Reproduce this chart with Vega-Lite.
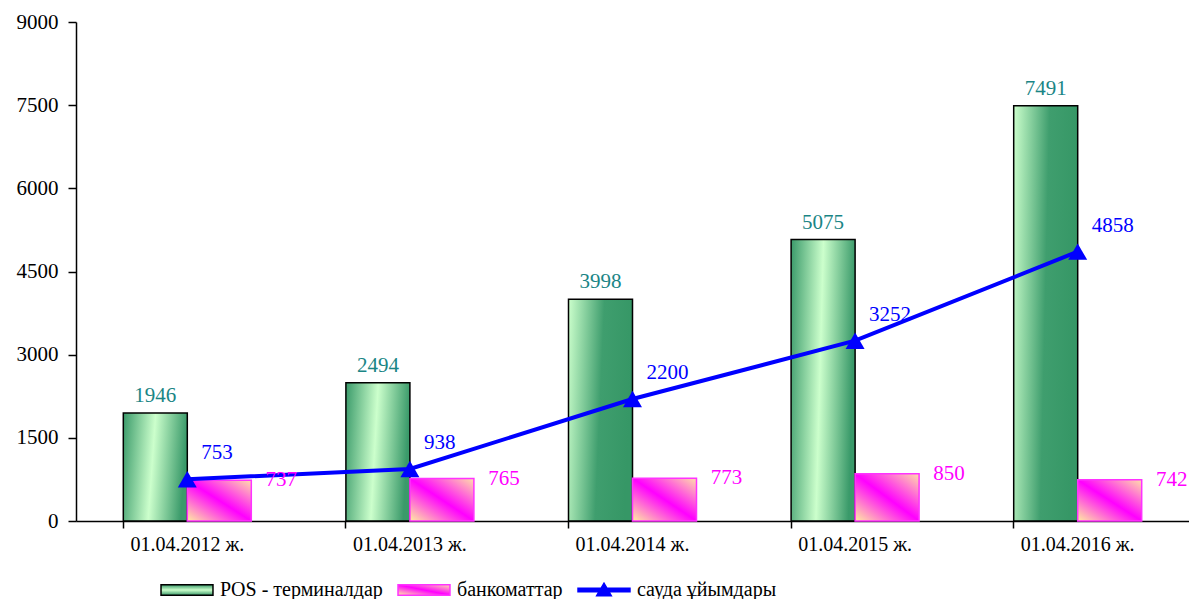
{
  "$schema": "https://vega.github.io/schema/vega-lite/v6.json",
  "width": 1113,
  "height": 499,
  "autosize": "none",
  "padding": {"left": 76, "top": 22, "right": 0, "bottom": 78},
  "background": "white",
  "config": {
    "view": {"stroke": null},
    "font": "Liberation Serif",
    "axis": {"labelFont": "Liberation Serif", "labelColor": "#000000", "domainColor": "#000000", "tickColor": "#000000", "grid": false, "title": null},
    "legend": {"labelFont": "Liberation Serif"}
  },
  "data": {
    "values": [
      {"date": "01.04.2012 ж.", "series": "POS - терминалдар", "value": 1946},
      {"date": "01.04.2013 ж.", "series": "POS - терминалдар", "value": 2494},
      {"date": "01.04.2014 ж.", "series": "POS - терминалдар", "value": 3998},
      {"date": "01.04.2015 ж.", "series": "POS - терминалдар", "value": 5075},
      {"date": "01.04.2016 ж.", "series": "POS - терминалдар", "value": 7491},
      {"date": "01.04.2012 ж.", "series": "банкоматтар", "value": 737},
      {"date": "01.04.2013 ж.", "series": "банкоматтар", "value": 765},
      {"date": "01.04.2014 ж.", "series": "банкоматтар", "value": 773},
      {"date": "01.04.2015 ж.", "series": "банкоматтар", "value": 850},
      {"date": "01.04.2016 ж.", "series": "банкоматтар", "value": 742},
      {"date": "01.04.2012 ж.", "series": "сауда ұйымдары", "value": 753},
      {"date": "01.04.2013 ж.", "series": "сауда ұйымдары", "value": 938},
      {"date": "01.04.2014 ж.", "series": "сауда ұйымдары", "value": 2200},
      {"date": "01.04.2015 ж.", "series": "сауда ұйымдары", "value": 3252},
      {"date": "01.04.2016 ж.", "series": "сауда ұйымдары", "value": 4858}
    ]
  },
  "encoding": {
    "x": {
      "field": "date", "type": "nominal",
      "sort": ["01.04.2012 ж.", "01.04.2013 ж.", "01.04.2014 ж.", "01.04.2015 ж.", "01.04.2016 ж."],
      "scale": {"domain": ["01.04.2012 ж.", "01.04.2013 ж.", "01.04.2014 ж.", "01.04.2015 ж.", "01.04.2016 ж."], "paddingInner": 0.425, "paddingOuter": 0.2125},
      "axis": {"labelAngle": 0, "labelFontSize": 20, "labelPadding": 6, "tickSize": 7, "bandPosition": 0, "domainWidth": 1.5, "tickWidth": 1.5}
    },
    "y": {
      "field": "value", "type": "quantitative",
      "scale": {"domain": [0, 9000], "nice": false},
      "axis": {"values": [0, 1500, 3000, 4500, 6000, 7500, 9000], "format": "d", "labelFontSize": 21, "labelPadding": 10, "tickSize": 8, "domainWidth": 1.5, "tickWidth": 1.5}
    }
  },
  "layer": [
    {
      "transform": [{"filter": "datum.series === 'POS - терминалдар' && (datum.date === '01.04.2012 ж.' || datum.date === '01.04.2013 ж.' || datum.date === '01.04.2015 ж.')"}],
      "mark": {
        "type": "bar", "strokeWidth": 1.5,
        "fill": {"gradient": "linear", "x1": 0, "y1": 0, "x2": 1, "y2": 0.12, "stops": [{"offset": 0, "color": "#3a9a6a"}, {"offset": 0.5, "color": "#ccffcc"}, {"offset": 1, "color": "#3a9a6a"}]}
      },
      "encoding": {
        "xOffset": {"field": "series", "scale": {"domain": ["POS - терминалдар", "банкоматтар"], "paddingInner": 0, "paddingOuter": 0}},
        "stroke": {
          "field": "series", "type": "nominal",
          "scale": {"domain": ["POS - терминалдар", "банкоматтар", "сауда ұйымдары"], "range": ["#000000", "#ff33ff", "#0000ff"]},
          "legend": {
            "title": null, "orient": "none", "legendX": 84, "legendY": 541, "direction": "horizontal",
            "labelFont": "Liberation Serif", "labelFontSize": 20, "labelColor": "#000000", "labelLimit": 0, "labelOffset": 6, "columnPadding": 12,
            "symbolSize": 2700, "symbolType": "M-1,-0.2H1V0.2H-1Z", "symbolStrokeWidth": 1.5,
            "encode": {"symbols": {"update": {
              "shape": {"signal": "datum.value === 'сауда ұйымдары' ? 'M-1,-0.07H1V0.07H-1Z M-0.28,0.22L0,-0.26L0.28,0.22Z' : 'M-1,-0.2H1V0.2H-1Z'"},
              "fill": {"signal": "datum.value === 'сауда ұйымдары' ? '#0000ff' : datum.value === 'банкоматтар' ? {gradient: 'linear', x1: 0, y1: 1, x2: 1, y2: 0, stops: [{offset: 0, color: '#ffeea0'}, {offset: 0.5, color: '#ff00ff'}, {offset: 1, color: '#ffe0a8'}]} : {gradient: 'linear', x1: 0, y1: 0, x2: 0, y2: 1, stops: [{offset: 0, color: '#3a9a6a'}, {offset: 0.5, color: '#ccffcc'}, {offset: 1, color: '#3a9a6a'}]}"},
              "opacity": {"value": 1}
            }}}
          }
        }
      }
    },
    {
      "transform": [{"filter": "datum.series === 'POS - терминалдар' && (datum.date === '01.04.2014 ж.' || datum.date === '01.04.2016 ж.')"}],
      "mark": {
        "type": "bar", "strokeWidth": 1.5,
        "fill": {"gradient": "linear", "x1": 0, "y1": 0, "x2": 1, "y2": 0.15, "stops": [{"offset": 0, "color": "#ccffcc"}, {"offset": 0.55, "color": "#3f9e6e"}, {"offset": 1, "color": "#369766"}]}
      },
      "encoding": {
        "xOffset": {"field": "series", "scale": {"domain": ["POS - терминалдар", "банкоматтар"], "paddingInner": 0, "paddingOuter": 0}},
        "stroke": {
          "field": "series", "type": "nominal",
          "legend": {
            "title": null, "orient": "none", "legendX": 84, "legendY": 541, "direction": "horizontal",
            "labelFont": "Liberation Serif", "labelFontSize": 20, "labelColor": "#000000", "labelLimit": 0, "labelOffset": 6, "columnPadding": 12,
            "symbolSize": 2700, "symbolType": "M-1,-0.2H1V0.2H-1Z", "symbolStrokeWidth": 1.5,
            "encode": {"symbols": {"update": {
              "shape": {"signal": "datum.value === 'сауда ұйымдары' ? 'M-1,-0.07H1V0.07H-1Z M-0.28,0.22L0,-0.26L0.28,0.22Z' : 'M-1,-0.2H1V0.2H-1Z'"},
              "fill": {"signal": "datum.value === 'сауда ұйымдары' ? '#0000ff' : datum.value === 'банкоматтар' ? {gradient: 'linear', x1: 0, y1: 1, x2: 1, y2: 0, stops: [{offset: 0, color: '#ffeea0'}, {offset: 0.5, color: '#ff00ff'}, {offset: 1, color: '#ffe0a8'}]} : {gradient: 'linear', x1: 0, y1: 0, x2: 0, y2: 1, stops: [{offset: 0, color: '#3a9a6a'}, {offset: 0.5, color: '#ccffcc'}, {offset: 1, color: '#3a9a6a'}]}"},
              "opacity": {"value": 1}
            }}}
          }
        }
      }
    },
    {
      "transform": [{"filter": "datum.series === 'банкоматтар'"}],
      "mark": {
        "type": "bar", "strokeWidth": 1.5,
        "fill": {"gradient": "linear", "x1": 0, "y1": 1, "x2": 1, "y2": 0, "stops": [{"offset": 0, "color": "#ffeea0"}, {"offset": 0.5, "color": "#ff00ff"}, {"offset": 1, "color": "#ffe0a8"}]}
      },
      "encoding": {
        "xOffset": {"field": "series", "scale": {"domain": ["POS - терминалдар", "банкоматтар"], "paddingInner": 0, "paddingOuter": 0}},
        "stroke": {
          "field": "series", "type": "nominal",
          "legend": {
            "title": null, "orient": "none", "legendX": 84, "legendY": 541, "direction": "horizontal",
            "labelFont": "Liberation Serif", "labelFontSize": 20, "labelColor": "#000000", "labelLimit": 0, "labelOffset": 6, "columnPadding": 12,
            "symbolSize": 2700, "symbolType": "M-1,-0.2H1V0.2H-1Z", "symbolStrokeWidth": 1.5,
            "encode": {"symbols": {"update": {
              "shape": {"signal": "datum.value === 'сауда ұйымдары' ? 'M-1,-0.07H1V0.07H-1Z M-0.28,0.22L0,-0.26L0.28,0.22Z' : 'M-1,-0.2H1V0.2H-1Z'"},
              "fill": {"signal": "datum.value === 'сауда ұйымдары' ? '#0000ff' : datum.value === 'банкоматтар' ? {gradient: 'linear', x1: 0, y1: 1, x2: 1, y2: 0, stops: [{offset: 0, color: '#ffeea0'}, {offset: 0.5, color: '#ff00ff'}, {offset: 1, color: '#ffe0a8'}]} : {gradient: 'linear', x1: 0, y1: 0, x2: 0, y2: 1, stops: [{offset: 0, color: '#3a9a6a'}, {offset: 0.5, color: '#ccffcc'}, {offset: 1, color: '#3a9a6a'}]}"},
              "opacity": {"value": 1}
            }}}
          }
        }
      }
    },
    {
      "transform": [{"filter": "datum.series === 'сауда ұйымдары'"}],
      "mark": {"type": "line", "strokeWidth": 4},
      "encoding": {
        "stroke": {
          "field": "series", "type": "nominal",
          "legend": {
            "title": null, "orient": "none", "legendX": 84, "legendY": 541, "direction": "horizontal",
            "labelFont": "Liberation Serif", "labelFontSize": 20, "labelColor": "#000000", "labelLimit": 0, "labelOffset": 6, "columnPadding": 12,
            "symbolSize": 2700, "symbolType": "M-1,-0.2H1V0.2H-1Z", "symbolStrokeWidth": 1.5,
            "encode": {"symbols": {"update": {
              "shape": {"signal": "datum.value === 'сауда ұйымдары' ? 'M-1,-0.07H1V0.07H-1Z M-0.28,0.22L0,-0.26L0.28,0.22Z' : 'M-1,-0.2H1V0.2H-1Z'"},
              "fill": {"signal": "datum.value === 'сауда ұйымдары' ? '#0000ff' : datum.value === 'банкоматтар' ? {gradient: 'linear', x1: 0, y1: 1, x2: 1, y2: 0, stops: [{offset: 0, color: '#ffeea0'}, {offset: 0.5, color: '#ff00ff'}, {offset: 1, color: '#ffe0a8'}]} : {gradient: 'linear', x1: 0, y1: 0, x2: 0, y2: 1, stops: [{offset: 0, color: '#3a9a6a'}, {offset: 0.5, color: '#ccffcc'}, {offset: 1, color: '#3a9a6a'}]}"},
              "opacity": {"value": 1}
            }}}
          }
        }
      }
    },
    {
      "transform": [{"filter": "datum.series === 'сауда ұйымдары'"}],
      "mark": {"type": "point", "shape": "triangle-up", "filled": true, "color": "#0000ff", "size": 360, "opacity": 1}
    },
    {
      "transform": [{"filter": "datum.series === 'POS - терминалдар'"}],
      "mark": {"type": "text", "font": "Liberation Serif", "fontSize": 21, "color": "#1a8585", "baseline": "alphabetic", "dy": -11},
      "encoding": {
        "xOffset": {"field": "series", "scale": {"domain": ["POS - терминалдар", "банкоматтар"], "paddingInner": 0, "paddingOuter": 0}},
        "text": {"field": "value", "type": "quantitative", "format": "d"}
      }
    },
    {
      "transform": [{"filter": "datum.series === 'банкоматтар'"}],
      "mark": {"type": "text", "font": "Liberation Serif", "fontSize": 21, "color": "#ff00ff", "baseline": "middle", "align": "center", "dx": 62, "dy": 0},
      "encoding": {
        "xOffset": {"field": "series", "scale": {"domain": ["POS - терминалдар", "банкоматтар"], "paddingInner": 0, "paddingOuter": 0}},
        "text": {"field": "value", "type": "quantitative", "format": "d"}
      }
    },
    {
      "transform": [{"filter": "datum.series === 'сауда ұйымдары'"}],
      "mark": {"type": "text", "font": "Liberation Serif", "fontSize": 21, "color": "#0000ff", "baseline": "middle", "align": "left", "dx": 14, "dy": -26},
      "encoding": {
        "text": {"field": "value", "type": "quantitative", "format": "d"}
      }
    }
  ]
}
